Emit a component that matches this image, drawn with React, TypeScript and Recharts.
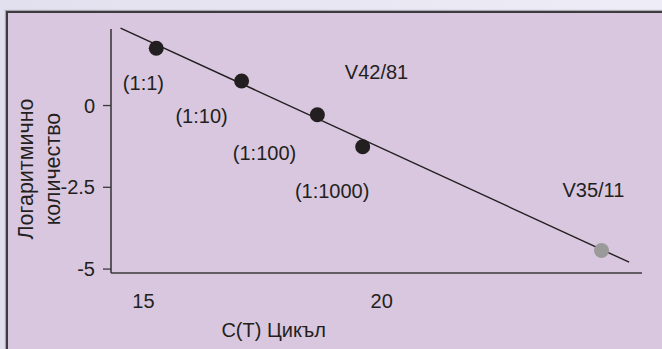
import React from 'react';
import { ScatterChart, Scatter, XAxis, YAxis, ReferenceLine, Label } from 'recharts';

const dilutionPoints = [
  { ct: 15.27, logQty: 1.75 },
  { ct: 17.06, logQty: 0.75 },
  { ct: 18.65, logQty: -0.28 },
  { ct: 19.6, logQty: -1.26 },
];
const samplePoints = [{ ct: 24.61, logQty: -4.43 }];
const fitLine = [
  { x: 14.52, y: 2.37 },
  { x: 25.19, y: -4.79 },
];
const annotations = [
  { ct: 15.0, logQty: 0.69, text: '(1:1)' },
  { ct: 16.22, logQty: -0.31, text: '(1:10)' },
  { ct: 17.54, logQty: -1.46, text: '(1:100)' },
  { ct: 18.96, logQty: -2.61, text: '(1:1000)' },
  { ct: 19.89, logQty: 1.04, text: 'V42/81' },
  { ct: 24.44, logQty: -2.58, text: 'V35/11' },
];
const xTicks = [15, 20];
const yTicks = [-5, -2.5, 0];
const xLabel = 'С(Т) Цикъл';
const yLabelLines = ['Логаритмично', 'количество'];

const FONT = '"Liberation Sans", Arial, Helvetica, sans-serif';
const INK = '#231f20';

const AnnotationShape = (props: any) => {
  const { cx, cy, payload } = props;
  return (
    <text x={cx} y={cy} dy="0.36em" textAnchor="middle" fontSize={20} fontFamily={FONT} fill={INK}>
      {payload.text}
    </text>
  );
};

const YLabelContent = (props: any) => {
  const vb = props.viewBox || {};
  const cy = vb.y + vb.height / 2 + 18;
  const x1 = vb.x - 26;
  const x2 = vb.x + 1;
  return (
    <g>
      <text x={x1} y={cy} transform={`rotate(-90 ${x1} ${cy})`} textAnchor="middle" dy="0.36em" fontSize={21.5} fontFamily={FONT} fill={INK}>
        {yLabelLines[0]}
      </text>
      <text x={x2} y={cy} transform={`rotate(-90 ${x2} ${cy})`} textAnchor="middle" dy="0.36em" fontSize={21.5} fontFamily={FONT} fill={INK}>
        {yLabelLines[1]}
      </text>
    </g>
  );
};

const XLabelContent = (props: any) => {
  const vb = props.viewBox || {};
  return (
    <text x={vb.x + 162.6} y={vb.y + 57} dy="0.36em" textAnchor="middle" fontSize={20} fontFamily={FONT} fill={INK}>
      {xLabel}
    </text>
  );
};

export default function App() {
  return (
    <div
      style={{
        position: 'fixed',
        left: 0,
        top: 0,
        width: 662,
        height: 349,
        overflow: 'hidden',
        background: 'linear-gradient(90deg, #e2e0ee 0%, #e8e6f2 50%, #eeedf7 100%)',
      }}
    >
      <div
        style={{
          position: 'absolute',
          left: 6,
          top: 11,
          width: 700,
          height: 400,
          background: '#d9c7df',
          borderLeft: '2px solid #3d3b40',
          borderTop: '2px solid #3d3b40',
          boxShadow: '-1px -1px 1px rgba(0,0,0,0.25)',
        }}
      />
      <div style={{ position: 'absolute', left: 0, top: 0 }}>
        <ScatterChart width={662} height={349} margin={{ top: 29, right: 20, bottom: 36, left: 51 }}>
          <XAxis
            type="number"
            dataKey="ct"
            domain={[14.32, 25.46]}
            ticks={xTicks}
            allowDataOverflow
            tickLine={false}
            tickSize={0}
            tickMargin={21}
            height={40}
            axisLine={{ stroke: '#3a3a3a', strokeWidth: 1.6 }}
            tick={{ fontSize: 20, fontFamily: FONT, fill: INK }}
          >
            <Label content={<XLabelContent />} />
          </XAxis>
          <YAxis
            type="number"
            dataKey="logQty"
            domain={[-5.12, 2.34]}
            ticks={yTicks}
            allowDataOverflow
            width={60}
            tickSize={8}
            tickMargin={8}
            tickLine={{ stroke: '#3a3a3a', strokeWidth: 1.3 }}
            axisLine={{ stroke: '#3a3a3a', strokeWidth: 1.6 }}
            tick={{ fontSize: 20, fontFamily: FONT, fill: INK }}
          >
            <Label content={<YLabelContent />} />
          </YAxis>
          <ReferenceLine segment={fitLine} stroke={INK} strokeWidth={1.4} ifOverflow="visible" />
          <Scatter data={dilutionPoints} fill={INK} isAnimationActive={false} shape={(p: any) => <circle cx={p.cx} cy={p.cy} r={7.5} fill={INK} />} />
          <Scatter data={samplePoints} fill="#9a9a9a" isAnimationActive={false} shape={(p: any) => <circle cx={p.cx} cy={p.cy} r={7.5} fill="#9a9a9a" />} />
          <Scatter data={annotations} isAnimationActive={false} shape={<AnnotationShape />} />
        </ScatterChart>
      </div>
    </div>
  );
}
